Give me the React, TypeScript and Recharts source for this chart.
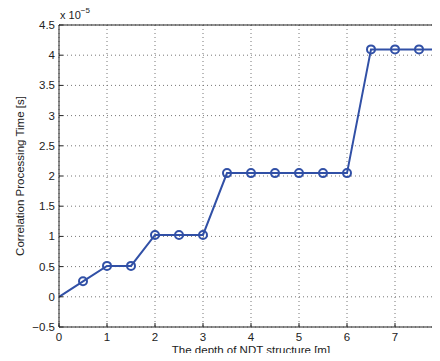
import React from 'react';
import { LineChart, Line, XAxis, YAxis, CartesianGrid } from 'recharts';

// depth [m] vs processing time (units of 1e-5 s)
const depths = [0, 0.5, 1, 1.5, 2, 2.5, 3, 3.5, 4, 4.5, 5, 5.5, 6, 6.5, 7, 7.5, 8];
const times = [0, 0.256, 0.512, 0.512, 1.024, 1.024, 1.024, 2.048, 2.048, 2.048, 2.048, 2.048, 2.048, 4.096, 4.096, 4.096, 4.096];
const xTicks = [0, 1, 2, 3, 4, 5, 6, 7, 8];
const yTicks = [-0.5, 0, 0.5, 1, 1.5, 2, 2.5, 3, 3.5, 4, 4.5];

const data = depths.map((d, i) => ({ depth: d, time: times[i] }));

const BLUE = '#3150a6';
const FONT = '"Liberation Sans", Arial, sans-serif';
const tickStyle = { fontSize: 11.5, fill: '#222', fontFamily: FONT };

const fmtY = (v: number) => (v < 0 ? '\u2212' + Math.abs(v) : String(v));

const Marker = (props: any) => {
  const { cx, cy, index } = props;
  if (index === 0) return <g key="m0" />;
  return <circle key={`m${index}`} cx={cx} cy={cy} r={4} fill="none" stroke={BLUE} strokeWidth={2} />;
};

const YLabel = (props: any) => {
  const { viewBox } = props;
  const x = viewBox.x + 20;
  const y = viewBox.y + viewBox.height / 2;
  return (
    <text x={x} y={y} transform={`rotate(-90, ${x}, ${y})`} textAnchor="middle" dominantBaseline="central"
      fontSize={11.5} fontFamily={FONT} fill="#222">
      Correlation Processing Time [s]
    </text>
  );
};

const XLabel = (props: any) => {
  const { viewBox } = props;
  return (
    <text x={viewBox.x + viewBox.width / 2} y={viewBox.y + 27} textAnchor="middle"
      fontSize={11.5} fontFamily={FONT} fill="#222">
      The depth of NDT structure [m]
    </text>
  );
};

const ExpLabel = (props: any) => {
  const { viewBox } = props;
  return (
    <text x={viewBox.x + 1} y={viewBox.y - 5} fontSize={11} fontFamily={FONT} fill="#222">
      x 10<tspan dy={-6} fontSize={8}>{'\u22125'}</tspan>
    </text>
  );
};

export default function App() {
  return (
    <div style={{ margin: -8, width: 440, height: 361, overflow: 'hidden', background: '#fff' }}>
      <LineChart width={460} height={361} data={data} margin={{ top: 24, right: 0, bottom: 0, left: 0 }}>
        <CartesianGrid stroke="#777" strokeDasharray="1 3" horizontalValues={yTicks} verticalValues={xTicks} />
        <XAxis dataKey="depth" type="number" domain={[0, 8]} ticks={xTicks} height={34}
          tickSize={-4} tickMargin={10} tick={tickStyle} stroke="#222" label={<XLabel />} />
        <XAxis xAxisId="top" orientation="top" dataKey="depth" type="number" domain={[0, 8]} ticks={xTicks}
          height={1} tickSize={-4} tick={false} stroke="#222" label={<ExpLabel />} />
        <YAxis type="number" domain={[-0.5, 4.5]} ticks={yTicks} width={59} tickSize={-4} tickMargin={8}
          tick={tickStyle} tickFormatter={fmtY} stroke="#222" label={<YLabel />} />
        <YAxis yAxisId="right" orientation="right" type="number" domain={[-0.5, 4.5]} ticks={yTicks} width={17}
          tickSize={-4} tick={false} stroke="#222" />
        <Line dataKey="time" stroke={BLUE} strokeWidth={2} dot={Marker} isAnimationActive={false} />
      </LineChart>
    </div>
  );
}
